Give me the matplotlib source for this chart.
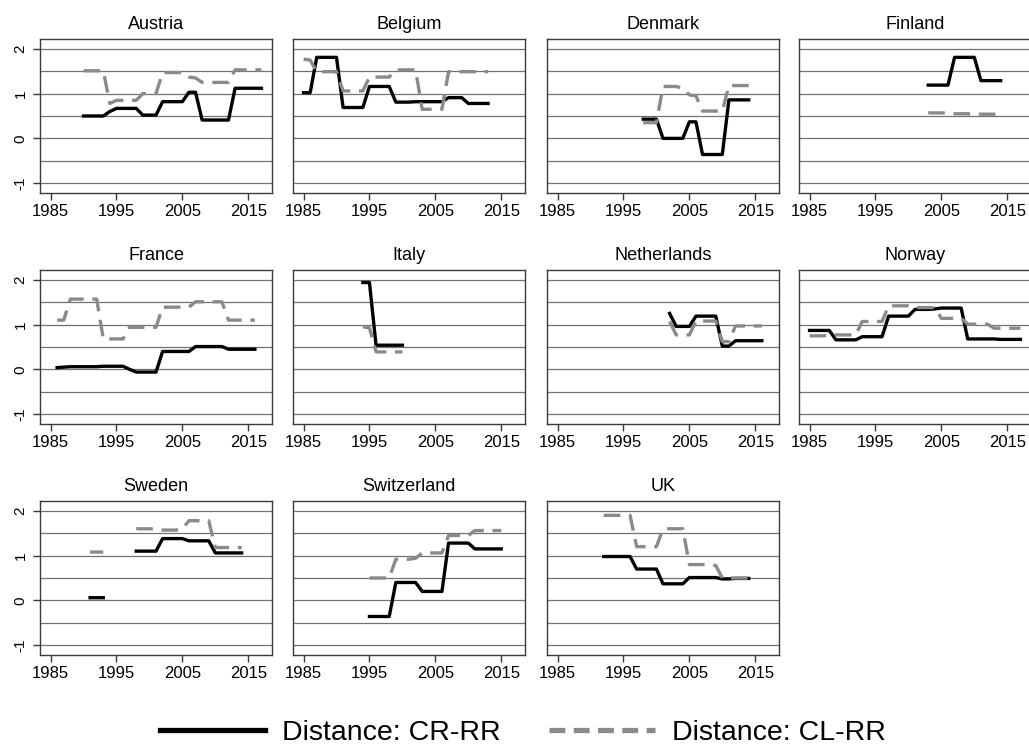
import numpy as np
import matplotlib
matplotlib.use("Agg")
import matplotlib.pyplot as plt
from matplotlib.lines import Line2D

plt.rcParams['font.family'] = ['Liberation Sans', 'DejaVu Sans']

nan = np.nan

# Country panels, first year of each series and the yearly values
countries = ["Austria", "Belgium", "Denmark", "Finland",
             "France", "Italy", "Netherlands", "Norway",
             "Sweden", "Switzerland", "UK"]

start_years = [1990, 1985, 1998, 2003, 1986, 1994, 2002, 1985, 1991, 1995, 1992]

cr_austria = [.50, .50, .50, .50, .60, .67, .67, .67, .67, .52, .52, .52, .82, .82,
              .82, .82, 1.03, 1.03, .41, .41, .41, .41, .41, 1.12, 1.12, 1.12, 1.12, 1.12]
cl_austria = [1.51, 1.51, 1.51, 1.51, .78, .85, .85, .85, .85, 1.0, 1.0, 1.0, 1.47, 1.47,
              1.47, 1.47, 1.37, 1.35, 1.25, 1.25, 1.25, 1.25, 1.25, 1.53, 1.53, 1.53, 1.53, 1.53]

cr_belgium = [1.02, 1.02, 1.81, 1.81, 1.81, 1.81, .69, .69, .69, .69, 1.16, 1.16, 1.16, 1.16,
              .81, .81, .81, .82, .82, .82, .82, .82, .91, .91, .91, .78, .78, .78, .78]
cl_belgium = [1.77, 1.75, 1.49, 1.49, 1.49, 1.49, 1.06, 1.06, 1.06, 1.06, 1.37, 1.37, 1.37, 1.37,
              1.53, 1.53, 1.53, 1.53, .65, .65, .65, .65, 1.49, 1.49, 1.49, 1.49, 1.49, 1.49, 1.49]

cr_denmark = [.43, .43, .43, .0, .0, .0, .0, .37, .37, -.36, -.36, -.36, -.36, .86, .86, .86, .86]
cl_denmark = [.35, .35, .35, 1.16, 1.16, 1.16, 1.12, .97, .95, .61, .61, .61, .61, 1.18, 1.18, 1.18, 1.18]

cr_finland = [1.19, 1.19, 1.19, 1.19, 1.81, 1.81, 1.81, 1.81, 1.29, 1.29, 1.29, 1.29]
cl_finland = [.57, .57, .57, .56, .55, .55, .55, .54, .54, .54, .54, .54]

cr_france = [.04, .05, .06, .06, .06, .06, .06, .07, .07, .07, .07, .0, -.06, -.06, -.06, -.06,
             .40, .40, .40, .40, .40, .51, .51, .51, .51, .51, .45, .45, .45, .45, .45]
cl_france = [1.10, 1.10, 1.57, 1.57, 1.57, 1.57, 1.57, .68, .68, .68, .68, .94, .94, .94, .94, .94,
             1.39, 1.39, 1.39, 1.39, 1.39, 1.51, 1.51, 1.51, 1.51, 1.51, 1.10, 1.10, 1.10, 1.10, 1.10]

cr_italy = [1.94, 1.94, .54, .54, .54, .54, .54]
cl_italy = [.95, .93, .39, .39, .39, .39, .39]

cr_netherlands = [1.25, .96, .96, .96, 1.19, 1.19, 1.19, 1.19, .52, .52, .64, .64, .64, .64, .64]
cl_netherlands = [1.07, .77, .77, .77, 1.08, 1.08, 1.08, 1.08, .62, .62, .97, .97, .97, .97, .97]

cr_norway = [.87, .87, .87, .87, .66, .66, .66, .66, .73, .73, .73, .73, 1.19, 1.19, 1.19, 1.19,
             1.34, 1.34, 1.34, 1.35, 1.37, 1.37, 1.37, 1.37, .68, .68, .68, .68, .68, .67, .67, .67, .67]
cl_norway = [.75, .75, .75, .76, .77, .77, .77, .77, 1.07, 1.07, 1.07, 1.07, 1.42, 1.42, 1.42, 1.42,
             1.38, 1.38, 1.38, 1.38, 1.14, 1.14, 1.14, 1.14, 1.01, 1.01, 1.01, 1.01, .92, .92, .92, .92, .92]

cr_sweden = [.06, .06, .06, nan, nan, nan, nan, 1.10, 1.10, 1.10, 1.10, 1.38, 1.38, 1.38, 1.38,
             1.33, 1.33, 1.33, 1.33, 1.06, 1.06, 1.06, 1.06, 1.06]
cl_sweden = [1.08, 1.08, 1.08, nan, nan, nan, nan, 1.60, 1.60, 1.60, 1.59, 1.57, 1.57, 1.57, 1.60,
             1.78, 1.78, 1.78, 1.78, 1.18, 1.18, 1.18, 1.18, 1.18]

cr_switzerland = [-.36, -.36, -.36, -.36, .40, .40, .40, .40, .20, .20, .20, .20,
                  1.28, 1.28, 1.28, 1.28, 1.15, 1.15, 1.15, 1.15, 1.15]
cl_switzerland = [.50, .50, .50, .50, .92, .92, .92, .94, 1.06, 1.06, 1.06, 1.06,
                  1.45, 1.45, 1.45, 1.45, 1.56, 1.56, 1.56, 1.56, 1.56]

cr_uk = [.98, .98, .98, .98, .98, .70, .70, .70, .70, .37, .37, .37, .37,
         .51, .51, .51, .51, .51, .48, .48, .49, .49, .49]
cl_uk = [1.90, 1.90, 1.90, 1.90, 1.90, 1.20, 1.20, 1.20, 1.20, 1.60, 1.60, 1.60, 1.60,
         .80, .80, .80, .80, .78, .50, .50, .50, .50, .50]

cr_series = [cr_austria, cr_belgium, cr_denmark, cr_finland, cr_france, cr_italy,
             cr_netherlands, cr_norway, cr_sweden, cr_switzerland, cr_uk]
cl_series = [cl_austria, cl_belgium, cl_denmark, cl_finland, cl_france, cl_italy,
             cl_netherlands, cl_norway, cl_sweden, cl_switzerland, cl_uk]

x_ticks = [1985, 1995, 2005, 2015]
y_ticks = [-1, 0, 1, 2]
y_grid = [-1, -0.5, 0, 0.5, 1, 1.5, 2]

W, H = 1029, 747
fig = plt.figure(figsize=(W / 100, H / 100), dpi=100)

col_left = [40, 293, 547, 799]
row_top = [39, 270, 501]
ax_w, ax_h = 232, 154

gray = "#8a8a8a"
for i, name in enumerate(countries):
    r, c = divmod(i, 4)
    ax = fig.add_axes([col_left[c] / W, 1 - (row_top[r] + ax_h) / H, ax_w / W, ax_h / H])
    years = np.arange(start_years[i], start_years[i] + len(cr_series[i]))
    for g in y_grid:
        ax.axhline(g, color="#727272", lw=0.9, zorder=1)
    ax.plot(years, cr_series[i], color="black", lw=2.4, zorder=3)
    ax.plot(years, cl_series[i], color=gray, lw=2.4, dashes=(5, 2.6), zorder=4)
    ax.set_xlim(1983.4, 2018.6)
    ax.set_ylim(-1.22, 2.22)
    ax.set_xticks(x_ticks)
    ax.set_xticklabels([str(t) for t in x_ticks], fontsize=12)
    ax.set_title(name, fontsize=13, pad=7)
    for s in ax.spines.values():
        s.set_color("#3a3a3a")
        s.set_linewidth(1.0)
    ax.tick_params(axis="x", length=5, width=1, color="#3a3a3a", pad=3)
    if c == 0:
        ax.set_yticks(y_ticks)
        ax.set_yticklabels([str(t) for t in y_ticks], fontsize=11, rotation=90, va="center")
        ax.tick_params(axis="y", length=5, width=1, color="#3a3a3a", pad=4)
    else:
        ax.set_yticks([])

handles = [Line2D([], [], color="black", lw=3.8),
           Line2D([], [], color=gray, lw=3.8, dashes=(3, 1.6))]
fig.legend(handles, ["Distance: CR-RR", "Distance: CL-RR"], loc="center",
           bbox_to_anchor=(0.508, 1 - 733 / H), ncol=2, frameon=False, fontsize=20.5,
           handlelength=3.7, handletextpad=0.6, columnspacing=1.7,
           borderpad=0.1)

fig.savefig("out.png", dpi=100)
